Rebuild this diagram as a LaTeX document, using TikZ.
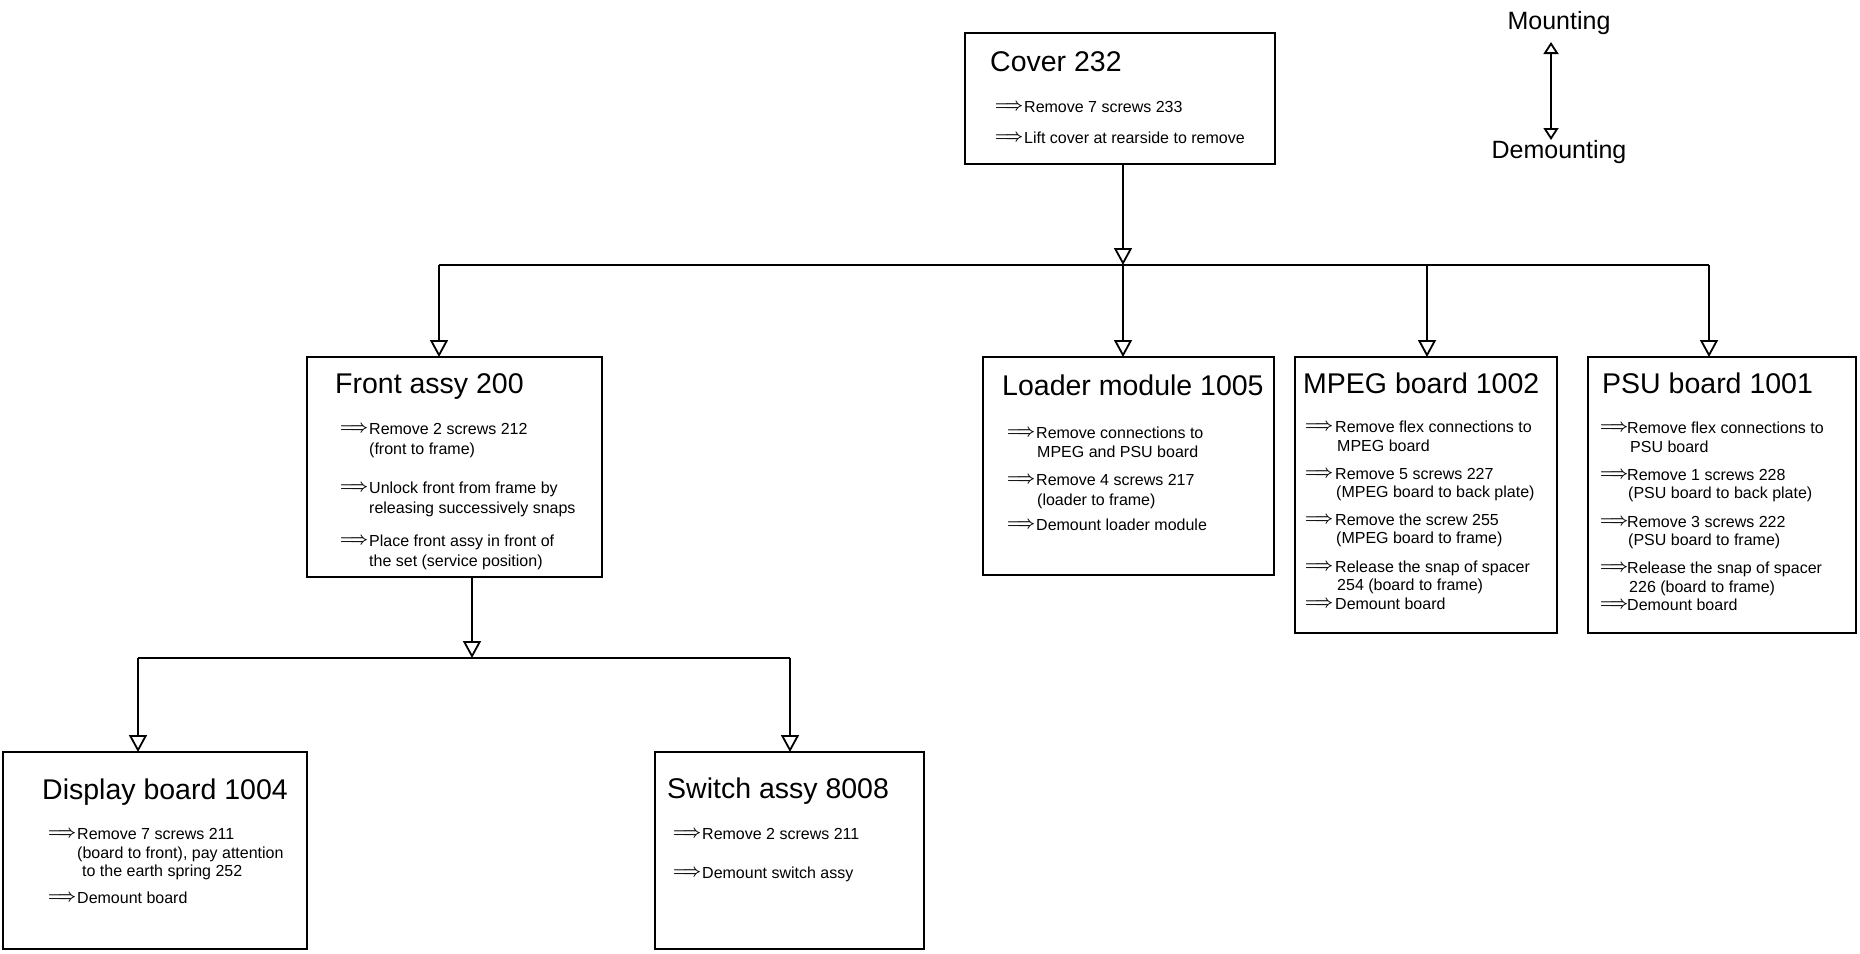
\documentclass[tikz,border=0pt]{standalone}
\usepackage{fontspec}
\setmainfont{Liberation Sans}
\usepackage{graphicx}
\usetikzlibrary{arrows.meta}
\newcommand\darr{\raisebox{1.5pt}{\resizebox{28pt}{\height}{\boldmath$\Longrightarrow$}}}
\tikzset{
  box/.style={draw, line width=1.8pt, anchor=north west, inner sep=0pt, outer sep=0pt},
  ttl/.style={anchor=base west, inner sep=0pt, font=\fontsize{28.5}{34}\selectfont},
  txt/.style={anchor=base west, inner sep=0pt, font=\fontsize{16}{20}\selectfont},
  ar/.style={anchor=base west, inner sep=0pt, font=\fontsize{16}{20}\selectfont},
  leg/.style={anchor=base, inner sep=0pt, font=\fontsize{25}{30}\selectfont},
  con/.style={line width=1.8pt},
  tri/.style={-{Triangle[open, length=17pt, width=18pt, fill=white]}},
  ltri/.style={{Triangle[open, length=12pt, width=15pt, fill=white]}-{Triangle[open, length=12pt, width=15pt, fill=white]}}
}
\begin{document}
\begin{tikzpicture}[x=1pt, y=-1pt]
\useasboundingbox (0,0) rectangle (1860,953);

% ---------- boxes ----------
\node[box, minimum width=310pt, minimum height=131pt] (cover) at (965,33) {};
\node[box, minimum width=295pt, minimum height=220pt] (front) at (307,357) {};
\node[box, minimum width=291pt, minimum height=218pt] (loader) at (983,357) {};
\node[box, minimum width=262pt, minimum height=276pt] (mpeg) at (1295,357) {};
\node[box, minimum width=268pt, minimum height=276pt] (psu) at (1588,357) {};
\node[box, minimum width=304pt, minimum height=197pt] (disp) at (3,752) {};
\node[box, minimum width=269pt, minimum height=197pt] (sw) at (655,752) {};

% ---------- cover ----------
\node[ttl] (coverT) at (990,71) {Cover 232};
\node[ar] (c1a) at (995,112) {\darr};
\node[txt] (c1) at (1024,112) {Remove 7 screws 233};
\node[ar] (c2a) at (995,143) {\darr};
\node[txt] (c2) at (1024,143) {Lift cover at rearside to remove};

% ---------- front assy ----------
\node[ttl] (frontT) at (335,393) {Front assy 200};
\node[ar] (f1a) at (340,434) {\darr};
\node[txt] (f1) at (369,434) {Remove 2 screws 212};
\node[txt] (f1b) at (369,454) {(front to frame)};
\node[ar] (f2a) at (340,493) {\darr};
\node[txt] (f2) at (369,493) {Unlock front from frame by};
\node[txt] (f2b) at (369,513) {releasing successively snaps};
\node[ar] (f3a) at (340,546) {\darr};
\node[txt] (f3) at (369,546) {Place front assy in front of};
\node[txt] (f3b) at (369,566) {the set (service position)};

% ---------- loader ----------
\node[ttl] (loaderT) at (1002,395) {Loader module 1005};
\node[ar] (l1a) at (1007,438) {\darr};
\node[txt] (l1) at (1036,438) {Remove connections to};
\node[txt] (l1b) at (1037,457) {MPEG and PSU board};
\node[ar] (l2a) at (1007,485) {\darr};
\node[txt] (l2) at (1036,485) {Remove 4 screws 217};
\node[txt] (l2b) at (1037,505) {(loader to frame)};
\node[ar] (l3a) at (1007,530) {\darr};
\node[txt] (l3) at (1036,530) {Demount loader module};

% ---------- MPEG ----------
\node[ttl] (mpegT) at (1303,393) {MPEG board 1002};
\node[ar] (m1a) at (1305,432) {\darr};
\node[txt] (m1) at (1335,432) {Remove flex connections to};
\node[txt] (m1b) at (1337,451) {MPEG board};
\node[ar] (m2a) at (1305,479) {\darr};
\node[txt] (m2) at (1335,479) {Remove 5 screws 227};
\node[txt] (m2b) at (1336,497) {(MPEG board to back plate)};
\node[ar] (m3a) at (1305,525) {\darr};
\node[txt] (m3) at (1335,525) {Remove the screw 255};
\node[txt] (m3b) at (1336,543) {(MPEG board to frame)};
\node[ar] (m4a) at (1305,572) {\darr};
\node[txt] (m4) at (1335,572) {Release the snap of spacer};
\node[txt] (m4b) at (1337,590) {254 (board to frame)};
\node[ar] (m5a) at (1305,609) {\darr};
\node[txt] (m5) at (1335,609) {Demount board};

% ---------- PSU ----------
\node[ttl] (psuT) at (1602,393) {PSU board 1001};
\node[ar] (p1a) at (1600,433) {\darr};
\node[txt] (p1) at (1627,433) {Remove flex connections to};
\node[txt] (p1b) at (1630,452) {PSU board};
\node[ar] (p2a) at (1600,480) {\darr};
\node[txt] (p2) at (1627,480) {Remove 1 screws 228};
\node[txt] (p2b) at (1628,498) {(PSU board to back plate)};
\node[ar] (p3a) at (1600,527) {\darr};
\node[txt] (p3) at (1627,527) {Remove 3 screws 222};
\node[txt] (p3b) at (1628,545) {(PSU board to frame)};
\node[ar] (p4a) at (1600,573) {\darr};
\node[txt] (p4) at (1627,573) {Release the snap of spacer};
\node[txt] (p4b) at (1629,592) {226 (board to frame)};
\node[ar] (p5a) at (1600,610) {\darr};
\node[txt] (p5) at (1627,610) {Demount board};

% ---------- display board ----------
\node[ttl] (dispT) at (42,799) {Display board 1004};
\node[ar] (d1a) at (48,839) {\darr};
\node[txt] (dt1) at (77,839) {Remove 7 screws 211};
\node[txt] (dt1b) at (77,858) {(board to front), pay attention};
\node[txt] (dt1c) at (82,876) {to the earth spring 252};
\node[ar] (d2a) at (48,903) {\darr};
\node[txt] (dt2) at (77,903) {Demount board};

% ---------- switch assy ----------
\node[ttl] (swT) at (667,798) {Switch assy 8008};
\node[ar] (s1a) at (673,839) {\darr};
\node[txt] (s1) at (702,839) {Remove 2 screws 211};
\node[ar] (s2a) at (673,878) {\darr};
\node[txt] (s2) at (702,878) {Demount switch assy};

% ---------- legend ----------
\node[leg] (mount) at (1559,29) {Mounting};
\node[leg] (demount) at (1559,158) {Demounting};
\coordinate (lgT) at (1551,42);
\coordinate (lgB) at (1551,140);
\draw[con, ltri] (lgT) -- (lgB);

% ---------- connectors ----------
\coordinate (b0) at (1123,265);
\coordinate (bF) at (439,265);
\coordinate (bM) at (1427,265);
\coordinate (bP) at (1709,265);
\coordinate (fd) at (472,658);
\coordinate (d1) at (138,658);
\coordinate (d2) at (790,658);

\draw[con, tri] (b0 |- cover.south) -- (b0);
\draw[con] (bF) -- (bP);
\draw[con, tri] (bF) -- (bF |- front.north);
\draw[con, tri] (b0) -- (b0 |- loader.north);
\draw[con, tri] (bM) -- (bM |- mpeg.north);
\draw[con, tri] (bP) -- (bP |- psu.north);
\draw[con, tri] (fd |- front.south) -- (fd);
\draw[con] (d1) -- (d2);
\draw[con, tri] (d1) -- (d1 |- disp.north);
\draw[con, tri] (d2) -- (d2 |- sw.north);
\end{tikzpicture}
\end{document}
